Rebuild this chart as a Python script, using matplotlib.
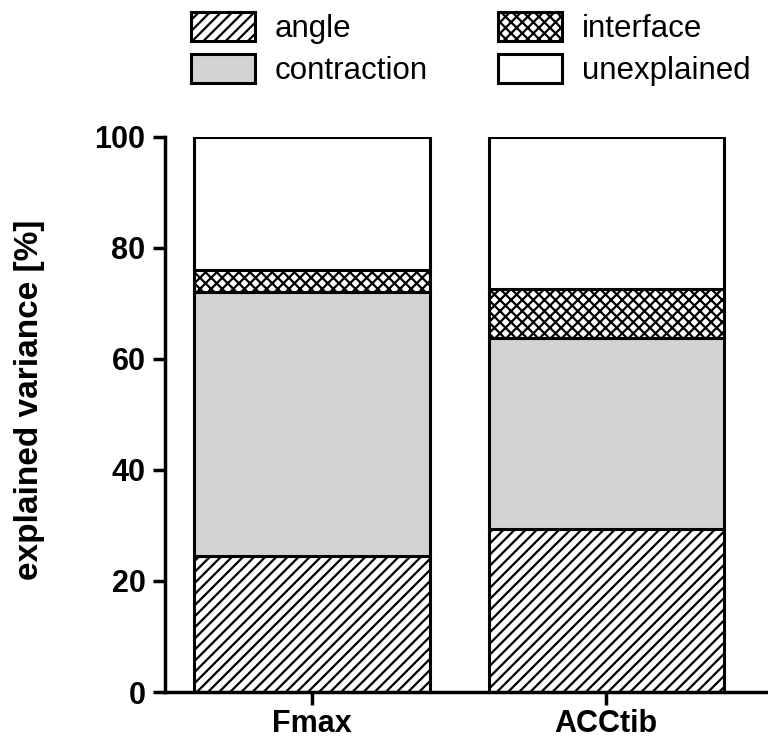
import matplotlib
matplotlib.use("Agg")
import matplotlib.pyplot as plt
import numpy as np

categories = ["Fmax", "ACCtib"]
angle = [24.5, 29.4]
contraction = [47.5, 34.3]
interface = [4.0, 8.9]
unexplained = [24.0, 27.4]
series_names = ["angle", "contraction", "interface", "unexplained"]
yticks = [0, 20, 40, 60, 80, 100]

plt.rcParams['font.family'] = ['Liberation Sans', 'DejaVu Sans']
plt.rcParams['hatch.linewidth'] = 1.6

fig = plt.figure(figsize=(7.68, 7.45), dpi=100)
ax = fig.add_axes([165/768, 1-692/745, 1-165/768, (692-137)/745])

x = np.arange(len(categories))
w = 0.80
styles = [
    dict(facecolor="white", hatch="///"),
    dict(facecolor="#d3d3d3", hatch=None),
    dict(facecolor="white", hatch="xxx"),
    dict(facecolor="white", hatch=None),
]
bottom = np.zeros(len(categories))
handles = []
for name, vals, st in zip(series_names, [angle, contraction, interface, unexplained], styles):
    b = ax.bar(x, vals, w, bottom=bottom, edgecolor="black", linewidth=2.2,
               label=name, **st)
    handles.append(b)
    bottom += np.array(vals)

ax.set_xlim(-0.5, 1.55)
ax.set_ylim(0, 100)
ax.set_yticks(yticks)
ax.set_xticks(x)
ax.set_xticklabels(categories, fontsize=22, fontweight="bold")
ax.tick_params(axis="y", labelsize=22, width=2.5, length=9, direction="out", pad=5)
for t in ax.get_yticklabels():
    t.set_fontweight("bold")
ax.tick_params(axis="x", width=2.5, length=9, direction="out", pad=3)
ax.set_ylabel("explained variance [%]", fontsize=24, fontweight="bold")
ax.yaxis.set_label_coords(-0.199, 0.526)
for s in ["top", "right"]:
    ax.spines[s].set_visible(False)
for s in ["left", "bottom"]:
    ax.spines[s].set_linewidth(2.5)

fig.legend(handles, series_names, loc="upper left", bbox_to_anchor=(163/768, 1.022),
           ncol=2, frameon=False, fontsize=22.5, handlelength=2.05, handleheight=1.05,
           columnspacing=2.26, labelspacing=0.32, handletextpad=0.62)

fig.savefig("out.png", dpi=100)
